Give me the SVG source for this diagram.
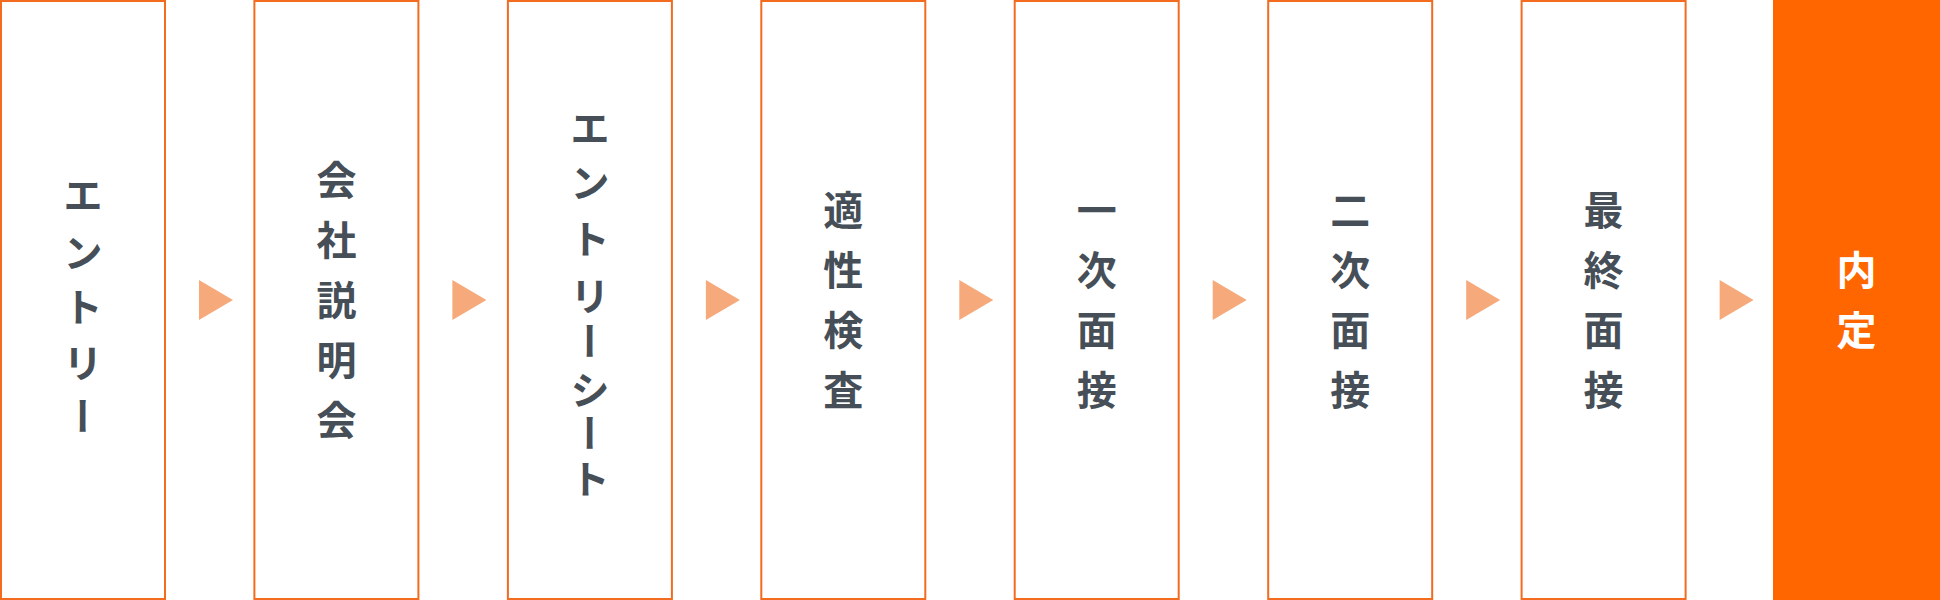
<svg xmlns="http://www.w3.org/2000/svg" width="1940" height="600" viewBox="0 0 1940 600">
  <style>
    .box { fill: #FFFFFF; stroke: #F26B1F; stroke-width: 2; }
    .box-final { fill: #FF6600; stroke: none; }
    .lbl { font-family: "Noto Sans CJK JP", "Noto Sans", sans-serif; font-size: 40px; font-weight: 700; fill: #464F57; writing-mode: vertical-rl; }
    .lbl-final { fill: #FFFFFF; }
    .arrow { fill: #F6AA7C; }
  </style>
  <rect width="1940" height="600" fill="#FFFFFF"/>

  <g id="node-entry">
    <rect class="box" x="1" y="1" width="164" height="598"/>
    <text class="lbl" x="83" y="175 233 287 343 396">エントリー</text>
  </g>
  <g id="node-setsumeikai">
    <rect class="box" x="254.4" y="1" width="164" height="598"/>
    <text class="lbl" x="336.4" y="160 220 280 340 400">会社説明会</text>
  </g>
  <g id="node-entrysheet">
    <rect class="box" x="507.9" y="1" width="164" height="598"/>
    <text class="lbl" x="589.9" y="107.5 163.3 219 276 321 370 413 459">エントリーシート</text>
  </g>
  <g id="node-tekisei">
    <rect class="box" x="761.3" y="1" width="164" height="598"/>
    <text class="lbl" x="843.3" y="190 250 310 370">適性検査</text>
  </g>
  <g id="node-ichiji">
    <rect class="box" x="1014.7" y="1" width="164" height="598"/>
    <text class="lbl" x="1096.7" y="190 250 310 370">一次面接</text>
  </g>
  <g id="node-niji">
    <rect class="box" x="1268.2" y="1" width="164" height="598"/>
    <text class="lbl" x="1350.2" y="190 250 310 370">二次面接</text>
  </g>
  <g id="node-saishu">
    <rect class="box" x="1521.6" y="1" width="164" height="598"/>
    <text class="lbl" x="1603.6" y="190 250 310 370">最終面接</text>
  </g>
  <g id="node-naitei">
    <rect class="box-final" x="1773" y="0" width="167" height="600"/>
    <text class="lbl lbl-final" x="1856.5" y="250 310">内定</text>
  </g>

  <g id="connectors">
    <polygon class="arrow" points="199,280 199,320 233,300"/>
    <polygon class="arrow" points="452.4,280 452.4,320 486.4,300"/>
    <polygon class="arrow" points="705.9,280 705.9,320 739.9,300"/>
    <polygon class="arrow" points="959.3,280 959.3,320 993.3,300"/>
    <polygon class="arrow" points="1212.7,280 1212.7,320 1246.7,300"/>
    <polygon class="arrow" points="1466.2,280 1466.2,320 1500.2,300"/>
    <polygon class="arrow" points="1719.6,280 1719.6,320 1753.6,300"/>
  </g>
</svg>
